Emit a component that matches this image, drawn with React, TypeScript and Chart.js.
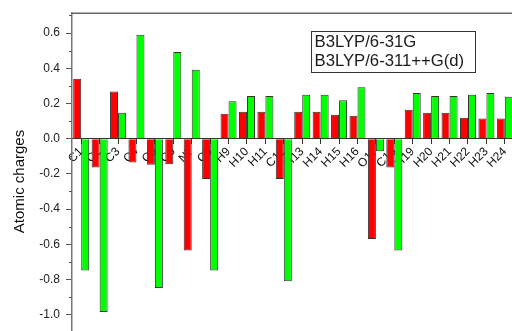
import React, { useEffect, useRef } from "react";
import { Chart, registerables } from "chart.js";

Chart.register(...registerables);

// Atom labels along the x axis
const atoms = [
  "C1", "C2", "C3", "C4", "C5", "C6", "N7", "C8", "H9", "H10", "H11", "C12",
  "H13", "H14", "H15", "H16", "O17", "C18", "H19", "H20", "H21", "H22", "H23", "H24",
];

// Mulliken charges, B3LYP/6-31G
const charges631G = [
  0.34, -0.164, 0.268, -0.136, -0.149, -0.145, -0.636, -0.23, 0.141, 0.153, 0.153, -0.23,
  0.153, 0.153, 0.136, 0.13, -0.57, -0.164, 0.164, 0.147, 0.147, 0.119, 0.115, 0.115,
];

// Mulliken charges, B3LYP/6-311++G(d)
const charges6311 = [
  -0.749, -0.985, 0.147, 0.59, -0.849, 0.492, 0.392, -0.749, 0.213, 0.243, 0.243, -0.81,
  0.249, 0.249, 0.218, 0.292, -0.072, -0.636, 0.26, 0.243, 0.243, 0.249, 0.26, 0.238,
];

// Labelled (major) ticks on the charge axis
const yMajorTicks = [-1.2, -1.0, -0.8, -0.6, -0.4, -0.2, 0.0, 0.2, 0.4, 0.6];
// Unlabelled (minor) ticks between them
const yMinorTicks = [-1.1, -0.9, -0.7, -0.5, -0.3, -0.1, 0.1, 0.3, 0.5, 0.7];

const seriesNames = ["B3LYP/6-31G", "B3LYP/6-311++G(d)"];

const FONT = "'Liberation Sans', Arial, sans-serif";

const framePlugin = {
  id: "frameAndLegend",
  afterDatasetsDraw(chart: any) {
    const { ctx, chartArea, scales } = chart;
    const y = scales.y;
    ctx.save();
    // top frame line
    ctx.strokeStyle = "#666";
    ctx.lineWidth = 1.5;
    ctx.beginPath();
    ctx.moveTo(chartArea.left, chartArea.top);
    ctx.lineTo(chartArea.right, chartArea.top);
    ctx.stroke();
    // minor ticks on the y axis
    ctx.lineWidth = 1;
    ctx.strokeStyle = "#555";
    for (const v of yMinorTicks) {
      const py = Math.round(y.getPixelForValue(v)) + 0.5;
      ctx.beginPath();
      ctx.moveTo(chartArea.left - 3, py);
      ctx.lineTo(chartArea.left, py);
      ctx.stroke();
    }
    // boxed legend, text only
    const bx = 311.5, by = 31.5, bw = 164, bh = 41;
    ctx.fillStyle = "#fff";
    ctx.fillRect(bx, by, bw, bh);
    ctx.strokeStyle = "#333";
    ctx.lineWidth = 1;
    ctx.strokeRect(bx, by, bw, bh);
    ctx.fillStyle = "#1a1a1a";
    ctx.font = `16.7px ${FONT}`;
    ctx.textBaseline = "middle";
    ctx.textAlign = "left";
    chart.data.datasets.forEach((ds: any, i: number) => {
      ctx.fillText(ds.label, bx + 3, by + 10.5 + i * 19);
    });
    ctx.restore();
  },
};

export default function App() {
  const canvasRef = useRef<HTMLCanvasElement | null>(null);

  useEffect(() => {
    const canvas = canvasRef.current;
    if (!canvas) return;
    const chart = new Chart(canvas, {
      type: "bar",
      data: {
        labels: atoms,
        datasets: [
          {
            label: seriesNames[0],
            data: charges631G,
            backgroundColor: "#ff0000",
            borderColor: "#333",
            borderWidth: 1,
            categoryPercentage: 0.87,
            barPercentage: 1.0,
          },
          {
            label: seriesNames[1],
            data: charges6311,
            backgroundColor: "#00ff00",
            borderColor: "#333",
            borderWidth: 1,
            categoryPercentage: 0.87,
            barPercentage: 1.0,
          },
        ],
      },
      options: {
        responsive: false,
        animation: false,
        layout: { padding: { left: 0, top: 13, right: 0, bottom: 11 } },
        plugins: {
          legend: { display: false },
          tooltip: { enabled: false },
        },
        scales: {
          x: {
            type: "category",
            position: { y: 0 } as any,
            offset: true,
            z: 1,
            grid: {
              offset: false,
              drawOnChartArea: false,
              drawTicks: true,
              tickLength: 5,
              color: "#333",
            },
            border: { display: true, color: "#333", width: 1 },
            ticks: {
              autoSkip: false,
              minRotation: 45,
              maxRotation: 45,
              padding: 1,
              color: "#111",
              font: { family: FONT, size: 12 },
            },
          },
          y: {
            min: -1.2,
            max: 0.713,
            afterBuildTicks: (scale: any) => {
              scale.ticks = yMajorTicks.map((v) => ({ value: v }));
            },
            afterFit: (scale: any) => {
              scale.width = 72;
            },
            grid: {
              drawOnChartArea: false,
              drawTicks: true,
              tickLength: 6,
              color: "#555",
            },
            border: { display: true, color: "#777", width: 1.5 },
            ticks: {
              padding: 6,
              color: "#222",
              font: { family: FONT, size: 12 },
              callback: (v: any) => Number(v).toFixed(1),
            },
            title: {
              display: true,
              text: "Atomic charges",
              color: "#111",
              font: { family: FONT, size: 15 },
              padding: { top: 11, bottom: 4 },
            },
          },
        },
      },
      plugins: [framePlugin],
    });
    return () => chart.destroy();
  }, []);

  return (
    <div
      style={{
        position: "fixed",
        left: 0,
        top: 0,
        width: 512,
        height: 331,
        overflow: "hidden",
        background: "#fff",
      }}
    >
      <canvas ref={canvasRef} width={516} height={363} style={{ display: "block" }} />
    </div>
  );
}
